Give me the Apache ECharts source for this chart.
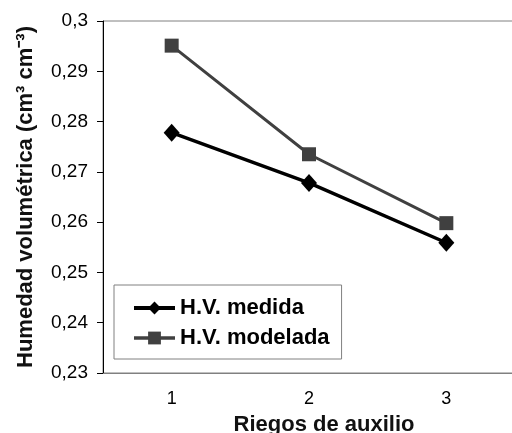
<!DOCTYPE html>
<html>
<head>
<meta charset="utf-8">
<script src="https://cdn.jsdelivr.net/npm/echarts@6/dist/echarts.min.js"></script>
<style>
  html, body { margin: 0; padding: 0; background: #fff; }
  #chart { width: 512px; height: 433px; }
</style>
</head>
<body>
<div id="chart"></div>
<script>
// riegos de auxilio
var categories = ['1', '2', '3'];
var medida = [0.2778, 0.2678, 0.2559];
var modelada = [0.2951, 0.2735, 0.2598];
var seriesNames = ['H.V. medida', 'H.V. modelada'];

var chart = echarts.init(document.getElementById('chart'));
var font = 'Liberation Sans, Arial, sans-serif';

var option = {
  backgroundColor: '#fff',
  animation: false,
  textStyle: { fontFamily: font },
  grid: {
    left: 103,
    top: 21,
    bottom: 60,
    width: 412,
    outerBoundsMode: 'none',
    containLabel: false,
    show: true,
    borderColor: '#808080',
    borderWidth: 1
  },
  legend: {
    orient: 'vertical',
    left: 114,
    top: 285,
    backgroundColor: '#fff',
    borderColor: '#808080',
    borderWidth: 1,
    padding: [12, 12, 10, 18],
    itemWidth: 41,
    itemHeight: 16,
    itemGap: 8,
    textStyle: { fontFamily: font, fontSize: 22, fontWeight: 'bold', color: '#000' },
    data: [
      { name: seriesNames[0], lineStyle: { width: 4 } },
      { name: seriesNames[1], lineStyle: { width: 3.5 } }
    ]
  },
  xAxis: {
    type: 'category',
    data: categories,
    name: 'Riegos de auxilio',
    nameLocation: 'middle',
    nameGap: 41,
    nameTextStyle: { fontFamily: font, fontSize: 22, fontWeight: 'bold', color: '#111', padding: [0, 0, 0, 30] },
    axisLine: { lineStyle: { color: '#808080', width: 1 } },
    axisTick: { length: 6, lineStyle: { color: '#808080' } },
    axisLabel: { fontFamily: font, fontSize: 18, color: '#000', margin: 17 },
    splitLine: { show: false }
  },
  yAxis: {
    type: 'value',
    min: 0.23,
    max: 0.3,
    interval: 0.01,
    name: 'Humedad volumétrica (cm³ cm⁻³)',
    nameLocation: 'middle',
    nameRotate: 90,
    nameGap: 66,
    nameTextStyle: { fontFamily: font, fontSize: 22, fontWeight: 'bold', color: '#111' },
    axisLine: { show: true, lineStyle: { color: '#000', width: 1 } },
    axisTick: { show: true, length: 6, lineStyle: { color: '#000' } },
    axisLabel: {
      fontFamily: font,
      fontSize: 19,
      color: '#000',
      margin: 15,
      formatter: function (v) {
        return String(+v.toFixed(2)).replace('.', ',');
      }
    },
    splitLine: { show: false }
  },
  series: [
    {
      name: seriesNames[0],
      type: 'line',
      data: medida,
      symbol: 'diamond',
      symbolSize: [16, 18],
      z: 3,
      itemStyle: { color: '#000' },
      lineStyle: { color: '#000', width: 3.5 }
    },
    {
      name: seriesNames[1],
      type: 'line',
      data: modelada,
      symbol: 'rect',
      symbolSize: 14,
      z: 2,
      itemStyle: { color: '#404040' },
      lineStyle: { color: '#404040', width: 3 }
    }
  ]
};

chart.setOption(option);
</script>
</body>
</html>
